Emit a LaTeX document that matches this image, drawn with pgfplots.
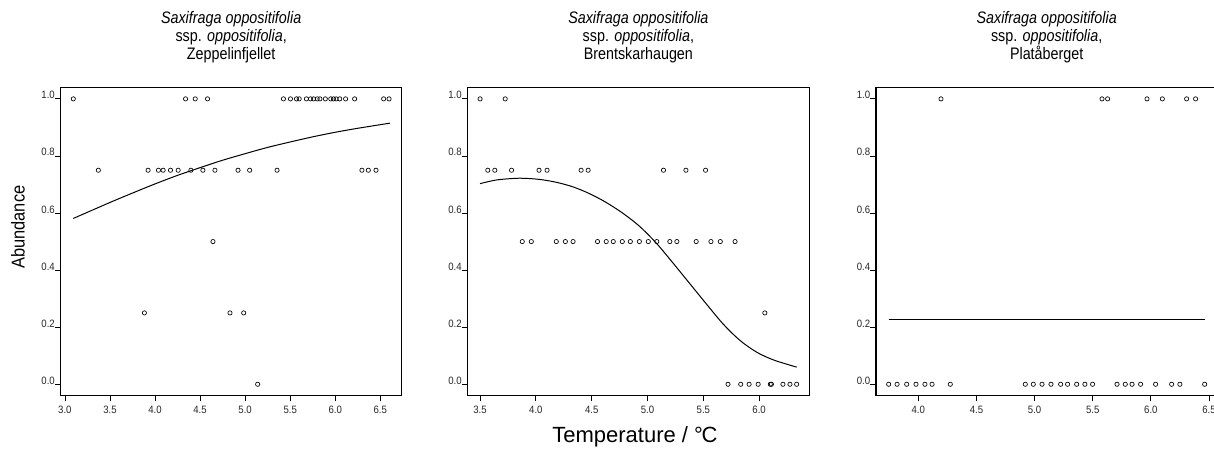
\documentclass[border=0pt]{standalone}
\usepackage{fontspec}
\setmainfont{Liberation Sans}
\newfontfamily\narrowfont{Liberation Sans}[FakeStretch=0.86]
\newfontfamily\ticksfont{Liberation Sans}[FakeStretch=0.9]
\newfontfamily\labelfont{Liberation Sans}[FakeStretch=0.88]
\usepackage{pgfplots}
\pgfplotsset{compat=1.18}
\usepackage{pgfplotstable}

% Observed abundance against mean temperature, one table per site
\pgfplotstableread{
x y
3.093 1
4.339 1
4.446 1
4.583 1
5.425 1
5.503 1
5.570 1
5.600 1
5.680 1
5.725 1
5.760 1
5.800 1
5.830 1
5.890 1
5.950 1
5.980 1
6.010 1
6.050 1
6.115 1
6.215 1
6.537 1
6.597 1
3.371 0.75
3.923 0.75
4.038 0.75
4.090 0.75
4.172 0.75
4.257 0.75
4.398 0.75
4.531 0.75
4.665 0.75
4.921 0.75
5.050 0.75
5.354 0.75
6.296 0.75
6.367 0.75
6.452 0.75
4.643 0.5
3.882 0.25
4.832 0.25
4.984 0.25
5.139 0
}\zeppelin

\pgfplotstableread{
x y
3.500 1
3.725 1
3.569 0.75
3.632 0.75
3.782 0.75
4.028 0.75
4.100 0.75
4.405 0.75
4.468 0.75
5.143 0.75
5.344 0.75
5.520 0.75
3.878 0.5
3.959 0.5
4.183 0.5
4.264 0.5
4.333 0.5
4.552 0.5
4.630 0.5
4.693 0.5
4.774 0.5
4.846 0.5
4.927 0.5
5.007 0.5
5.083 0.5
5.200 0.5
5.263 0.5
5.436 0.5
5.568 0.5
5.652 0.5
5.784 0.5
6.051 0.25
5.721 0
5.835 0
5.910 0
5.991 0
6.100 0
6.110 0
6.213 0
6.276 0
6.336 0
}\brentskar

\pgfplotstableread{
x y
3.745 0
3.817 0
3.900 0
3.980 0
4.057 0
4.118 0
4.275 0
4.920 0
4.989 0
5.064 0
5.141 0
5.224 0
5.284 0
5.362 0
5.433 0
5.499 0
5.709 0
5.780 0
5.838 0
5.912 0
6.041 0
6.179 0
6.250 0
6.463 0
4.195 1
5.580 1
5.628 1
5.967 1
6.099 1
6.308 1
6.385 1
}\plataberget

% Fitted response curves
\pgfplotstableread{
x p
3.093 0.581
3.500 0.637
3.750 0.670
4.000 0.702
4.250 0.732
4.500 0.759
4.750 0.785
5.000 0.808
5.250 0.830
5.500 0.849
5.750 0.867
6.000 0.883
6.250 0.897
6.608 0.915
}\zeppelinfit

\pgfplotstableread{
x p
3.500 0.703
3.650 0.716
3.851 0.722
4.028 0.718
4.180 0.708
4.330 0.692
4.480 0.668
4.630 0.637
4.780 0.599
4.930 0.553
5.080 0.494
5.230 0.424
5.380 0.352
5.530 0.280
5.680 0.210
5.830 0.153
5.980 0.112
6.130 0.085
6.336 0.060
}\brentskarfit

\pgfplotstableread{
x p
3.745 0.2255
6.463 0.2255
}\platabergetfit

\pgfplotsset{
  panel/.style={
    scale only axis,
    height=231.15pt,
    ymin=-0.04, ymax=1.04,
    ytick={0,0.2,0.4,0.6,0.8,1.0},
    axis line style={line width=0.9pt},
    tick style={line width=0.6pt, black},
    tick align=outside,
    major tick length=4.2pt,
    xtick pos=bottom, ytick pos=left,
    ticklabel style={font=\ticksfont\fontsize{8}{9}\selectfont, text=black!85},
    /pgf/number format/.cd, fixed, fixed zerofill, precision=1, assume math mode=true,
    /pgfplots/.cd,
    yticklabel style={anchor=base east, inner sep=0pt, xshift=0pt},
    xticklabel style={anchor=north, inner sep=0pt, yshift=-3.5pt},
    title style={align=center, font=\narrowfont\fontsize{12.5}{13.4}\selectfont,
      anchor=south, at={(0.5,1)}, inner sep=0pt, yshift=12.4pt},
    clip=false,
  },
  obs/.style={only marks, mark=o, mark size=1.6pt, mark options={line width=0.5pt}, black},
  fit/.style={no marks, line width=0.75pt, black},
}

\begin{document}
\begin{tikzpicture}
\path[use as bounding box] (0,0) rectangle (910.5pt,338.25pt);

\begin{axis}[panel, at={(45.5pt,41.5pt)}, anchor=south west, width=255.75pt,
  xmin=2.953, xmax=6.737, xtick={3.0,3.5,4.0,4.5,5.0,5.5,6.0,6.5},
  title={\textit{Saxifraga oppositifolia}\\ssp. \textit{oppositifolia},\\Zeppelinfjellet},
  ylabel={Abundance},
  ylabel style={at={(axis description cs:-0.125,0.547)}, anchor=center,
    font=\labelfont\fontsize{14}{16}\selectfont}]
\addplot[obs] table[x=x, y=y] {\zeppelin};
\addplot[fit, smooth] table[x=x, y=p] {\zeppelinfit};
\end{axis}

\begin{axis}[panel, at={(350.6pt,41.5pt)}, anchor=south west, width=256.35pt,
  xmin=3.387, xmax=6.449, xtick={3.5,4.0,4.5,5.0,5.5,6.0},
  title={\textit{Saxifraga oppositifolia}\\ssp. \textit{oppositifolia},\\Brentskarhaugen},
  xlabel={Temperature / °\kern-0.06em C},
  xlabel style={at={(axis description cs:0.49,-0.152)}, anchor=base,
    font=\fontsize{16.5}{18}\selectfont}]
\addplot[obs] table[x=x, y=y] {\brentskar};
\addplot[fit, smooth] table[x=x, y=p] {\brentskarfit};
\end{axis}

\begin{axis}[panel, at={(657pt,41.5pt)}, anchor=south west, width=256pt,
  xmin=3.636, xmax=6.572, xtick={4.0,4.5,5.0,5.5,6.0,6.5},
  title={\textit{Saxifraga oppositifolia}\\ssp. \textit{oppositifolia},\\Platåberget}]
\addplot[obs] table[x=x, y=y] {\plataberget};
\addplot[fit] table[x=x, y=p] {\platabergetfit};
\end{axis}
\end{tikzpicture}
\end{document}
